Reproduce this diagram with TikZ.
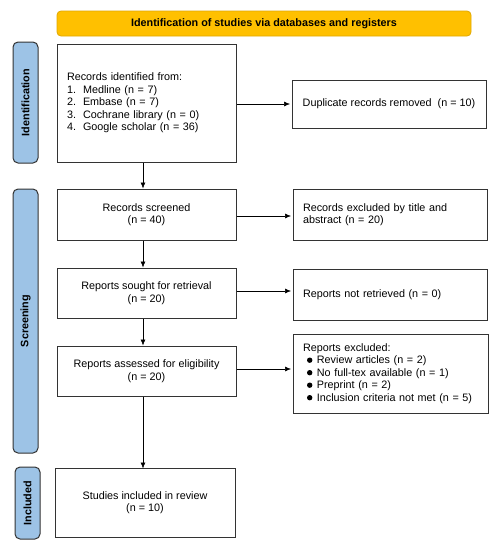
\documentclass[tikz,border=0pt]{standalone}
\usepackage{fontspec}
\setmainfont{Liberation Sans}
\usetikzlibrary{arrows.meta}
\definecolor{bannerfill}{HTML}{FFC000}
\definecolor{bannerline}{HTML}{E0A800}
\definecolor{barfill}{HTML}{9DC3E6}
\definecolor{barline}{HTML}{333333}
\definecolor{boxline}{HTML}{333333}
\newcommand{\bul}{\hspace{4pt}\tikz[baseline=0pt,x=1pt,y=1pt]\fill[black] (0,3.6) circle[radius=2.7];\hspace{4.5pt}}
\begin{document}
\begin{tikzpicture}[x=1pt,y=-1pt,
  every node/.style={font=\fontsize{10.8}{12.5}\selectfont},
  banner/.style={draw=bannerline,fill=bannerfill,rounded corners=4pt,line width=0.8pt,minimum width=414pt,minimum height=25pt,inner sep=0pt,font=\fontsize{10.8}{12.5}\selectfont\bfseries},
  bar/.style={draw=barline,fill=barfill,rounded corners=5pt,line width=1pt,minimum width=25pt,inner sep=0pt,font=\fontsize{10.8}{12.5}\selectfont\bfseries},
  box/.style={draw=boxline,line width=1pt,inner sep=0pt,align=center},
  lbox/.style={draw=boxline,line width=1pt,inner xsep=10pt,inner ysep=0pt,align=left},
  arr/.style={-{Latex[length=6pt,width=5pt]},line width=0.6pt,draw=black}
]
\useasboundingbox (0,0) rectangle (501,550);
\node[banner] (ban) at (264,23.5) {Identification of studies via databases and registers};
\node[bar,minimum height=121pt] (idb) at (25.5,102.5) {};
\node[rotate=90,font=\fontsize{10.8}{12.5}\selectfont\bfseries] (idt) at (idb) {Identification};
\node[bar,minimum height=264pt] (scb) at (25.5,321) {};
\node[rotate=90,font=\fontsize{10.8}{12.5}\selectfont\bfseries] (sct) at (scb) {Screening};
\node[bar,minimum height=72pt] (inb) at (27.5,503) {};
\node[rotate=90,font=\fontsize{10.8}{12.5}\selectfont\bfseries] (intt) at (inb) {Included};

\node[lbox,text width=159pt,minimum height=118pt] (rec) at (146.5,103) {Records identified from:\\
1.\hspace{7pt}Medline (n = 7)\\
2.\hspace{7pt}Embase (n = 7)\\
3.\hspace{7pt}Cochrane library (n = 0)\\
4.\hspace{7pt}Google scholar (n = 36)};
\node[box,minimum width=194pt,minimum height=48pt] (dup) at (389,104) {Duplicate records removed~ (n = 10)};

\node[box,minimum width=179pt,minimum height=51pt] (scr) at (146.5,214.5) {Records screened\\(n = 40)};
\node[lbox,text width=174pt,minimum height=51pt] (ex1) at (390,214.5) {Records excluded by title and\\abstract (n = 20)};

\node[box,minimum width=179pt,minimum height=50pt] (sou) at (146.5,293) {Reports sought for retrieval\\(n = 20)};
\node[lbox,text width=174pt,minimum height=51pt] (nr) at (390,294.5) {Reports not retrieved (n = 0)};

\node[box,minimum width=179pt,minimum height=50pt] (ass) at (146.5,371) {Reports assessed for eligibility\\(n = 20)};
\node[lbox,text width=175pt,minimum height=79pt] (ex2) at (390.5,373.5) {Reports excluded:\\
\bul Review articles (n = 2)\\
\bul No full-tex available (n = 1)\\
\bul Preprint (n = 2)\\
\bul Inclusion criteria not met (n = 5)};

\node[box,minimum width=180pt,minimum height=69pt] (stu) at (145,502.5) {Studies included in review\\(n = 10)};

\draw[arr] ([yshift=-1pt]rec.east) -- ([yshift=-1pt,xshift=-1.5pt]rec.east -| dup.west);
\draw[arr] ([yshift=-1.5pt]scr.east) -- ([yshift=-1.5pt,xshift=-1.5pt]scr.east -| ex1.west);
\draw[arr] ([yshift=2pt]sou.east) -- ([yshift=2pt,xshift=-1.5pt]sou.east -| nr.west);
\draw[arr] ([yshift=2pt]ass.east) -- ([yshift=2pt,xshift=-1.5pt]ass.east -| ex2.west);

\draw[arr] ([xshift=-3.5pt]rec.south) -- ([xshift=-3.5pt]scr.north);
\draw[arr] ([xshift=-3.5pt]scr.south) -- ([xshift=-3.5pt]sou.north);
\draw[arr] ([xshift=-3.5pt]sou.south) -- ([xshift=-3.5pt]ass.north);
\draw[arr] ([xshift=-3.5pt]ass.south) -- ([xshift=-2pt,yshift=-1pt]stu.north);
\end{tikzpicture}
\end{document}
